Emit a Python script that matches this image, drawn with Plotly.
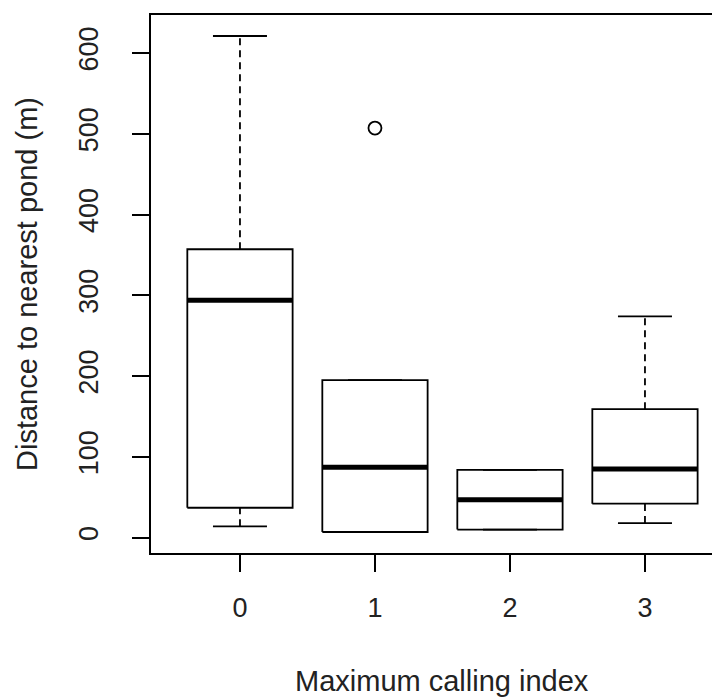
import plotly.graph_objects as go

categories = ["0", "1", "2", "3"]
lower_whisker = [14, 7, 10, 18]
q1 = [37, 7, 10, 42]
median = [294, 87, 47, 85]
q3 = [357, 195, 84, 159]
upper_whisker = [621, 195, 84, 274]
outlier_cat = ["1"]
outlier_val = [507]
y_ticks = [0, 100, 200, 300, 400, 500, 600]

BOX_HALF = 0.39
CAP_HALF = 0.2
FONT = "Liberation Sans, Arial, sans-serif"
LW = 1.8

fig = go.Figure()
pos = {c: i + 1 for i, c in enumerate(categories)}

for i, c in enumerate(categories):
    x = pos[c]
    fig.add_trace(go.Scatter(
        x=[x - BOX_HALF, x + BOX_HALF, x + BOX_HALF, x - BOX_HALF, x - BOX_HALF],
        y=[q1[i], q1[i], q3[i], q3[i], q1[i]],
        mode="lines", line=dict(color="black", width=LW),
        fill="toself", fillcolor="white", hoverinfo="skip", showlegend=False))
    fig.add_trace(go.Scatter(
        x=[x - BOX_HALF, x + BOX_HALF], y=[median[i], median[i]],
        mode="lines", line=dict(color="black", width=5), showlegend=False))
    if upper_whisker[i] > q3[i]:
        fig.add_trace(go.Scatter(
            x=[x, x], y=[q3[i], upper_whisker[i]], mode="lines",
            line=dict(color="black", width=LW, dash="7px,5px"), showlegend=False))
    if lower_whisker[i] < q1[i]:
        fig.add_trace(go.Scatter(
            x=[x, x], y=[lower_whisker[i], q1[i]], mode="lines",
            line=dict(color="black", width=LW, dash="7px,5px"), showlegend=False))
    fig.add_trace(go.Scatter(
        x=[x - CAP_HALF, x + CAP_HALF], y=[upper_whisker[i]] * 2, mode="lines",
        line=dict(color="black", width=LW), showlegend=False))
    fig.add_trace(go.Scatter(
        x=[x - CAP_HALF, x + CAP_HALF], y=[lower_whisker[i]] * 2, mode="lines",
        line=dict(color="black", width=LW), showlegend=False))

fig.add_trace(go.Scatter(
    x=[pos[c] for c in outlier_cat], y=outlier_val, mode="markers",
    marker=dict(symbol="circle-open", size=13, color="black", line=dict(width=LW)),
    showlegend=False))

fig.update_layout(
    width=720, height=698,
    margin=dict(l=143, r=0, t=7, b=153),
    paper_bgcolor="white", plot_bgcolor="white",
    font=dict(family=FONT, color="#222222", size=27),
    xaxis=dict(
        range=[0.341, 4.615], tickmode="array",
        tickvals=[pos[c] for c in categories], ticktext=categories,
        ticks="outside", ticklen=17, tickwidth=LW, tickcolor="black",
        showline=True, linecolor="black", linewidth=LW, mirror=True,
        showgrid=False, zeroline=False, tickfont=dict(size=27),
        ticklabelstandoff=13),
    yaxis=dict(
        range=[-19, 647], tickmode="array", tickvals=y_ticks,
        ticks="outside", ticklen=17, tickwidth=LW, tickcolor="black",
        showline=True, linecolor="black", linewidth=LW, mirror=False,
        showgrid=False, zeroline=False, tickangle=-90, tickfont=dict(size=27),
        ticklabelstandoff=23),
)

fig.add_annotation(text="Maximum calling index", xref="paper", yref="paper",
                   x=0.5, y=0, yanchor="middle", yshift=-128,
                   xshift=2, showarrow=False, font=dict(size=29))
fig.add_annotation(text="Distance to nearest pond (m)", xref="paper", yref="paper",
                   x=0, y=0.5, xanchor="center", xshift=-124, textangle=-90,
                   showarrow=False, font=dict(size=29))

fig.write_html("out.html")
